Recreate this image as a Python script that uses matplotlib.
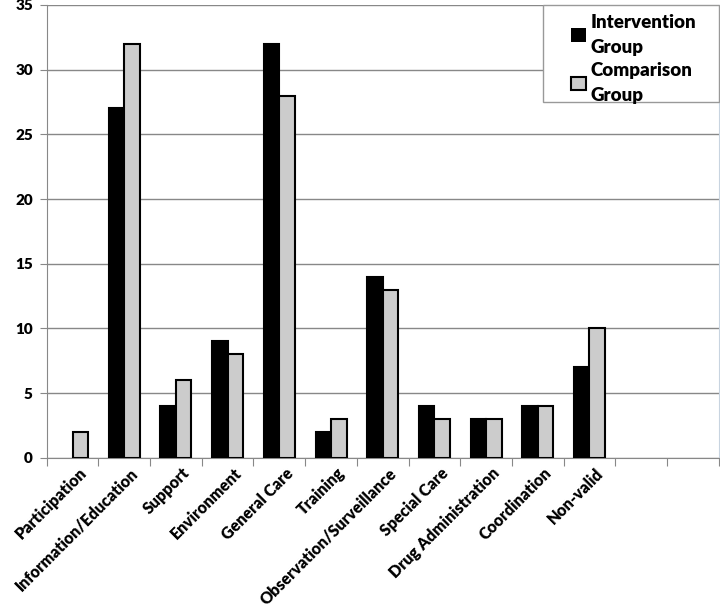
import numpy as np
import matplotlib
matplotlib.use("Agg")
import matplotlib.pyplot as plt
from matplotlib.patches import Rectangle
from matplotlib.transforms import ScaledTranslation

categories = ['Participation', 'Information/Education', 'Support', 'Environment',
              'General Care', 'Training', 'Observation/Surveillance', 'Special Care',
              'Drug Administration', 'Coordination', 'Non-valid', '', '']
intervention = [0, 27, 4, 9, 32, 2, 14, 4, 3, 4, 7, 0, 0]
comparison = [2, 32, 6, 8, 28, 3, 13, 3, 3, 4, 10, 0, 0]
n_used = 11

plt.rcParams['font.family'] = 'Lato'
W = 'heavy'

fig = plt.figure(figsize=(7.2, 6.13), dpi=100)
ax = fig.add_axes([0.065, 0.253, 0.933, 0.739])

x = np.arange(len(categories))
w = 0.3
iv = intervention[:n_used]
cv = comparison[:n_used]
ax.bar(x[:n_used] - w / 2, iv, w, color='black', edgecolor='black',
       linewidth=[1.5 if v > 0 else 0 for v in iv], label='Intervention\nGroup', zorder=3)
ax.bar(x[:n_used] + w / 2, cv, w, color='#cccccc', edgecolor='black',
       linewidth=[1.5 if v > 0 else 0 for v in cv], label='Comparison\nGroup', zorder=3)

ax.set_xlim(-0.5, len(categories) - 0.5)
ax.set_ylim(0, 35)
ax.yaxis.grid(True, color='#888888', linewidth=1)
ax.set_axisbelow(True)

ax.tick_params(axis='x', which='major', length=6, direction='out', color='#888888')
ax.tick_params(axis='x', which='minor', length=0, pad=5)
ax.tick_params(axis='y', length=5, color='#888888', pad=5)

ax.set_yticks(range(0, 36, 5))
ax.set_yticklabels([str(v) for v in range(0, 36, 5)])
ax.set_xticks(np.arange(len(categories) + 1) - 0.5)
ax.set_xticklabels([])
ax.set_xticks(x, minor=True)
ax.set_xticklabels(categories, minor=True, rotation=45, ha='right',
                   rotation_mode='anchor')

shift = ScaledTranslation(4 / 72, 0, fig.dpi_scale_trans)
for lb in ax.get_xticklabels(minor=True):
    lb.set_fontweight(W)
    lb.set_fontsize(11.5)
    lb.set_transform(lb.get_transform() + shift)
for lb in ax.get_yticklabels():
    lb.set_fontweight(W)
    lb.set_fontsize(11)

ax.spines['top'].set_visible(False)
ax.spines['right'].set_color('#c8d4e0')
ax.spines['left'].set_color('#888888')
ax.spines['bottom'].set_color('#888888')

# legend box drawn separately (wide side padding, tight vertical padding)
ax.add_patch(Rectangle((0.738, 0.786), 0.262, 0.214, transform=ax.transAxes,
                       facecolor='white', edgecolor='#999999', linewidth=1,
                       zorder=5, clip_on=False))
leg = ax.legend(loc='upper left', bbox_to_anchor=(0.781, 0.98),
                prop={'family': 'Lato', 'weight': W, 'size': 13.5},
                frameon=False, handlelength=0.75, handleheight=0.75,
                handletextpad=0.25, borderpad=0, labelspacing=0.35,
                borderaxespad=0)
leg.set_zorder(6)
for t in leg.get_texts():
    t.set_linespacing(1.55)

fig.savefig('out.png', dpi=100)
